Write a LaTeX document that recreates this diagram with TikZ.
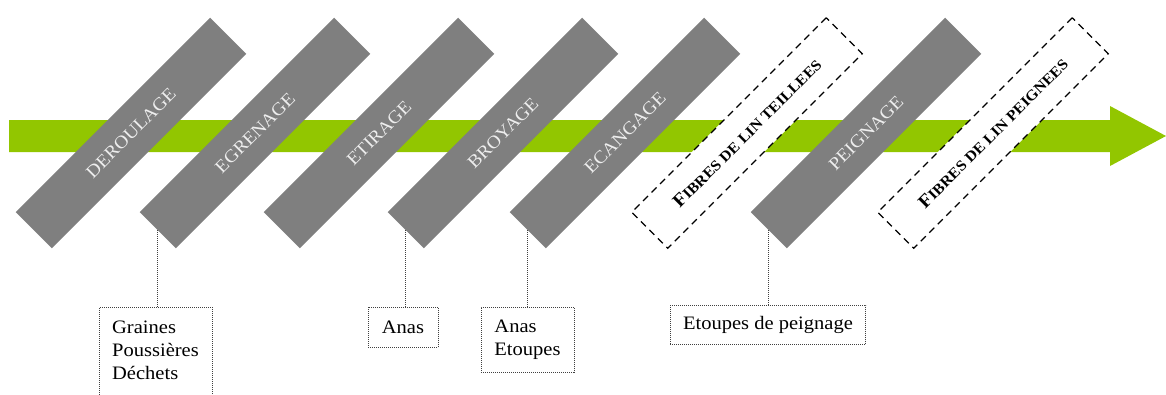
\documentclass[tikz,border=0pt]{standalone}
\usepackage{fontspec}
\setmainfont[FakeStretch=1.08]{Liberation Serif}
\definecolor{flowgreen}{RGB}{146,198,0}
\definecolor{bargray}{RGB}{127,127,127}
\newcommand\fakesmallcaps[1]{{\fontsize{14.8}{16}\selectfont #1}}
\begin{document}
\begin{tikzpicture}[x=1pt,y=-1pt,
  stage/.style={rotate=45, minimum width=275pt, minimum height=51pt, inner sep=0pt,
    fill=bargray, text=white!93!black, font=\fontsize{18}{20}\selectfont},
  product/.style={rotate=45, minimum width=275pt, minimum height=51pt, inner sep=0pt,
    fill=white, draw=black, line width=1.2pt, dash pattern=on 7pt off 5pt,
    font=\fontsize{18.5}{20}\selectfont\bfseries},
  waste/.style={draw=black!75, line width=0.9pt, dash pattern=on 1pt off 1pt,
    anchor=north, align=left, inner xsep=13pt, inner ysep=0pt,
    font=\fontsize{19}{23}\selectfont},
  link/.style={draw=black!75, line width=0.9pt, dash pattern=on 1pt off 1pt}]
\useasboundingbox (0,0) rectangle (1166,394);
\clip (0,0) rectangle (1166,394);
% main flow arrow
\fill[flowgreen] (9,120) -- (1110,120) -- (1110,106) -- (1166,136)
  -- (1110,166) -- (1110,152) -- (9,152) -- cycle;
% process stages
\node[stage] (der) at (131,133) {DEROULAGE};
\node[stage] (egr) at (255,133) {EGRENAGE};
\node[stage] (eti) at (379,133) {ETIRAGE};
\node[stage] (bro) at (503,133) {BROYAGE};
\node[stage] (eca) at (625,133) {ECANGAGE};
\node[product] (tei) at (747,133) {F\fakesmallcaps{IBRES DE LIN TEILLEES}};
\node[stage] (pei) at (866,133) {PEIGNAGE};
\node[product] (pgn) at (993,133) {F\fakesmallcaps{IBRES DE LIN PEIGNEES}};
% by-products
\node[waste, inner ysep=13pt, minimum width=113pt] (w1) at (155.5,307)
  {Graines\\Poussières\\Déchets\rule[-25pt]{0pt}{25pt}};
\node[waste, minimum width=70pt, minimum height=40pt] (w2) at (403,307) {Anas};
\node[waste, minimum width=93pt, minimum height=65pt] (w3) at (527.5,307) {Anas\\Etoupes};
\node[waste, minimum width=192pt, minimum height=39pt] (w4) at (768,305) {Etoupes de peignage};
% connectors
\draw[link] (egr.west) -- (egr.west |- w1.north);
\draw[link] (bro.west) -- (bro.west |- w2.north);
\draw[link] (eca.west) -- (eca.west |- w3.north);
\draw[link] (pei.west) -- (pei.west |- w4.north);
\end{tikzpicture}
\end{document}
